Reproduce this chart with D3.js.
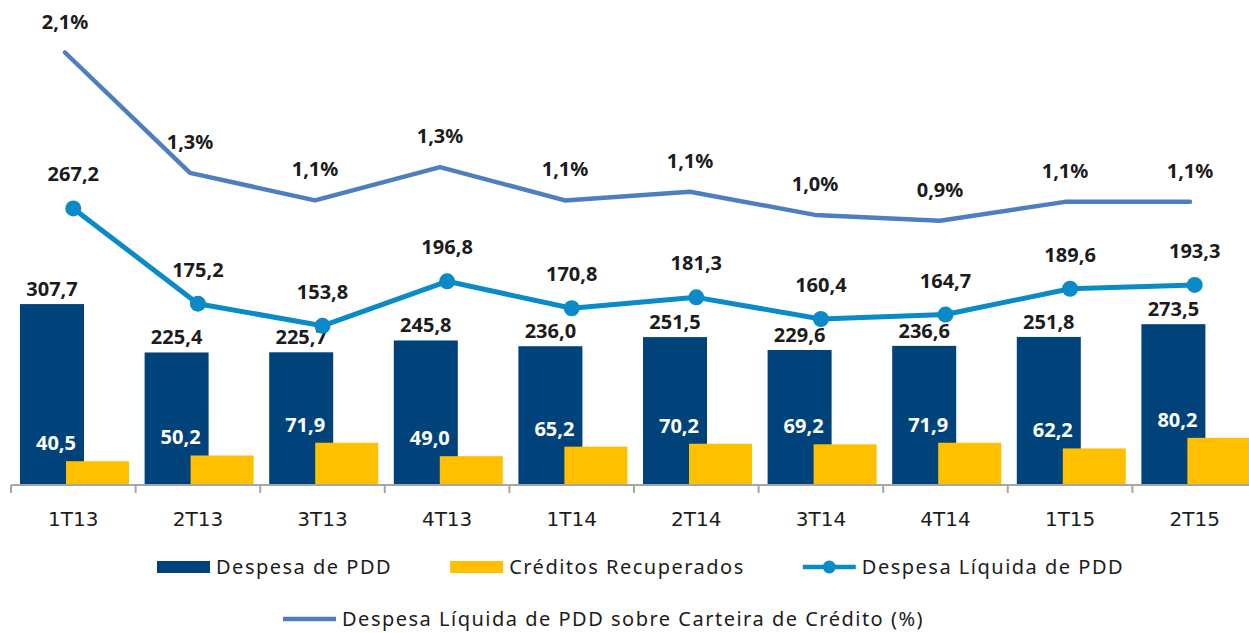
<!DOCTYPE html>
<html>
<head>
<meta charset="utf-8">
<script src="https://cdn.jsdelivr.net/npm/d3@7"></script>
<style>
  body { margin: 0; background: #fff; }
  #chart { width: 1249px; height: 633px; }
  .value-label { font-family: "Noto Sans", sans-serif; font-weight: bold; font-size: 20px; fill: #1c1c1c; }
  .legend text { font-family: "Noto Sans", sans-serif; font-size: 20px; fill: #1c1c1c; letter-spacing: 1.5px; }
</style>
</head>
<body>
<div id="chart"></div>
<script>
// quarters on the x axis
const quarters = ["1T13", "2T13", "3T13", "4T13", "1T14", "2T14", "3T14", "4T14", "1T15", "2T15"];

// R$ milhões
const despesaPDD = [307.7, 225.4, 225.7, 245.8, 236.0, 251.5, 229.6, 236.6, 251.8, 273.5];
const creditosRecuperados = [40.5, 50.2, 71.9, 49.0, 65.2, 70.2, 69.2, 71.9, 62.2, 80.2];
const despesaLiquida = [267.2, 175.2, 153.8, 196.8, 170.8, 181.3, 160.4, 164.7, 189.6, 193.3];

// % da carteira (labels shown with one decimal)
const pctCarteira = [2.10, 1.27, 1.08, 1.31, 1.08, 1.14, 0.98, 0.94, 1.07, 1.07];

const seriesNames = [
    "Despesa de PDD",
    "Créditos Recuperados",
    "Despesa Líquida de PDD",
    "Despesa Líquida de PDD sobre Carteira de Crédito (%)"
];

const colors = {
    despesa: "#00437a",
    creditos: "#ffc000",
    liquida: "#0a8ac6",
    pct: "#4d7fbf",
    axis: "#a6a6a6"
};

const fmt = v => d3.format(".1f")(v).replace(".", ",");

class ComboChart {
    constructor(parentElement) {
        this.parentElement = parentElement;
        this.data = quarters.map((q, i) => ({
            q: q,
            despesa: despesaPDD[i],
            creditos: creditosRecuperados[i],
            liquida: despesaLiquida[i],
            pct: pctCarteira[i]
        }));
    }

    initVis() {
        let vis = this;

        vis.width = 1249;
        vis.height = 633;
        vis.baseline = 485;

        vis.svg = d3.select("#" + vis.parentElement).append("svg")
            .attr("width", vis.width)
            .attr("height", vis.height);

        // scales
        vis.x = d3.scaleBand()
            .domain(quarters)
            .range([11, 1257]);

        // the % line sits on its own (slightly narrower) category spread
        vis.xPct = d3.scalePoint()
            .domain(quarters)
            .range([65, 1190]);

        vis.yBar = d3.scaleLinear()
            .domain([0, 300])
            .range([vis.baseline, vis.baseline - 176.4]);

        vis.yLine = d3.scaleLinear()
            .domain([0, 200])
            .range([vis.baseline, vis.baseline - 207]);

        vis.yPct = d3.scaleLinear()
            .domain([0, 2])
            .range([357, 67]);

        vis.xAxis = d3.axisBottom(vis.x)
            .tickSize(0)
            .tickPadding(27);

        vis.updateVis();
        vis.drawLegend();
    }

    updateVis() {
        const vis = this;
        const bw = vis.x.bandwidth();

        // bars - dark first, yellow drawn on top
        vis.svg.selectAll(".bar-despesa")
            .data(vis.data)
            .enter().append("rect")
            .attr("class", "bar-despesa")
            .attr("x", d => vis.x(d.q) + 9)
            .attr("width", 64)
            .attr("y", d => vis.yBar(d.despesa))
            .attr("height", d => vis.baseline - vis.yBar(d.despesa))
            .attr("fill", colors.despesa);

        vis.svg.selectAll(".bar-creditos")
            .data(vis.data)
            .enter().append("rect")
            .attr("class", "bar-creditos")
            .attr("x", d => vis.x(d.q) + 55)
            .attr("width", 63)
            .attr("y", d => vis.yBar(d.creditos))
            .attr("height", d => vis.baseline - vis.yBar(d.creditos))
            .attr("fill", colors.creditos);

        // axis
        const axisG = vis.svg.append("g")
            .attr("class", "x-axis")
            .attr("transform", `translate(0, ${vis.baseline})`)
            .call(vis.xAxis);

        axisG.select(".domain").remove();
        axisG.selectAll("text")
            .attr("dy", "0.71em")
            .style("font-family", "'DejaVu Sans', sans-serif")
            .style("font-size", "20px")
            .style("fill", "#1c1c1c");

        axisG.append("line")
            .attr("x1", vis.x.range()[0])
            .attr("x2", vis.width)
            .attr("stroke", colors.axis)
            .attr("stroke-width", 2);

        axisG.selectAll(".tick-mark")
            .data(quarters)
            .enter().append("line")
            .attr("class", "tick-mark")
            .attr("x1", d => vis.x(d))
            .attr("x2", d => vis.x(d))
            .attr("y1", 0)
            .attr("y2", 8)
            .attr("stroke", colors.axis)
            .attr("stroke-width", 2);

        // bar labels
        vis.svg.selectAll(".label-despesa")
            .data(vis.data)
            .enter().append("text")
            .attr("class", "value-label label-despesa")
            .attr("text-anchor", "middle")
            .attr("x", d => vis.x(d.q) + 9 + 32)
            .attr("y", d => vis.yBar(d.despesa) - 8)
            .text(d => fmt(d.despesa));

        vis.svg.selectAll(".label-creditos")
            .data(vis.data)
            .enter().append("text")
            .attr("class", "value-label label-creditos")
            .attr("text-anchor", "middle")
            .attr("x", d => vis.x(d.q) + 45)
            .attr("y", d => vis.yBar(d.creditos) - 11)
            .style("fill", "#fff")
            .text(d => fmt(d.creditos));

        // % line
        const pctLine = d3.line()
            .x(d => vis.xPct(d.q))
            .y(d => vis.yPct(d.pct));

        vis.svg.append("path")
            .datum(vis.data)
            .attr("d", pctLine)
            .attr("fill", "none")
            .attr("stroke", colors.pct)
            .attr("stroke-width", 4.5)
            .attr("stroke-linejoin", "round")
            .attr("stroke-linecap", "round");

        vis.svg.selectAll(".label-pct")
            .data(vis.data)
            .enter().append("text")
            .attr("class", "value-label label-pct")
            .attr("text-anchor", "middle")
            .attr("x", d => vis.xPct(d.q))
            .attr("y", d => vis.yPct(d.pct) - 24)
            .text(d => fmt(d.pct) + "%");

        // despesa liquida line + markers
        const cx = d => vis.x(d.q) + bw / 2;
        const liqLine = d3.line()
            .x(cx)
            .y(d => vis.yLine(d.liquida));

        vis.svg.append("path")
            .datum(vis.data)
            .attr("d", liqLine)
            .attr("fill", "none")
            .attr("stroke", colors.liquida)
            .attr("stroke-width", 5)
            .attr("stroke-linejoin", "round");

        vis.svg.selectAll(".dot")
            .data(vis.data)
            .enter().append("circle")
            .attr("class", "dot")
            .attr("cx", cx)
            .attr("cy", d => vis.yLine(d.liquida))
            .attr("r", 8)
            .attr("fill", colors.liquida);

        vis.svg.selectAll(".label-liquida")
            .data(vis.data)
            .enter().append("text")
            .attr("class", "value-label label-liquida")
            .attr("text-anchor", "middle")
            .attr("x", cx)
            .attr("y", d => vis.yLine(d.liquida) - 27)
            .text(d => fmt(d.liquida));
    }

    drawLegend() {
        const vis = this;
        const legend = vis.svg.append("g").attr("class", "legend");
        const symW = 53, textGap = 6, itemGap = 58;

        // row 1: three entries
        let xPos = 157;
        const row1 = [
            {name: seriesNames[0], type: "rect", color: colors.despesa},
            {name: seriesNames[1], type: "rect", color: colors.creditos},
            {name: seriesNames[2], type: "dot", color: colors.liquida}
        ];
        row1.forEach(item => {
            const g = legend.append("g").attr("transform", `translate(${xPos}, 567)`);
            if (item.type === "rect") {
                g.append("rect").attr("x", 0).attr("y", -6).attr("width", symW).attr("height", 12).attr("fill", item.color);
            } else {
                g.append("line").attr("x1", 0).attr("x2", symW).attr("stroke", item.color).attr("stroke-width", 4.5);
                g.append("circle").attr("cx", symW / 2).attr("r", 6.5).attr("fill", item.color);
            }
            const t = g.append("text").attr("x", symW + textGap).attr("y", 7).text(item.name);
            xPos += symW + textGap + t.node().getComputedTextLength() + itemGap;
        });

        // row 2
        const g2 = legend.append("g").attr("transform", "translate(283, 619)");
        g2.append("line").attr("x1", 0).attr("x2", symW).attr("stroke", colors.pct).attr("stroke-width", 4.5);
        g2.append("text").attr("x", symW + textGap).attr("y", 7).text(seriesNames[3]);
    }
}

const chart = new ComboChart("chart");
chart.initVis();
</script>
</body>
</html>
